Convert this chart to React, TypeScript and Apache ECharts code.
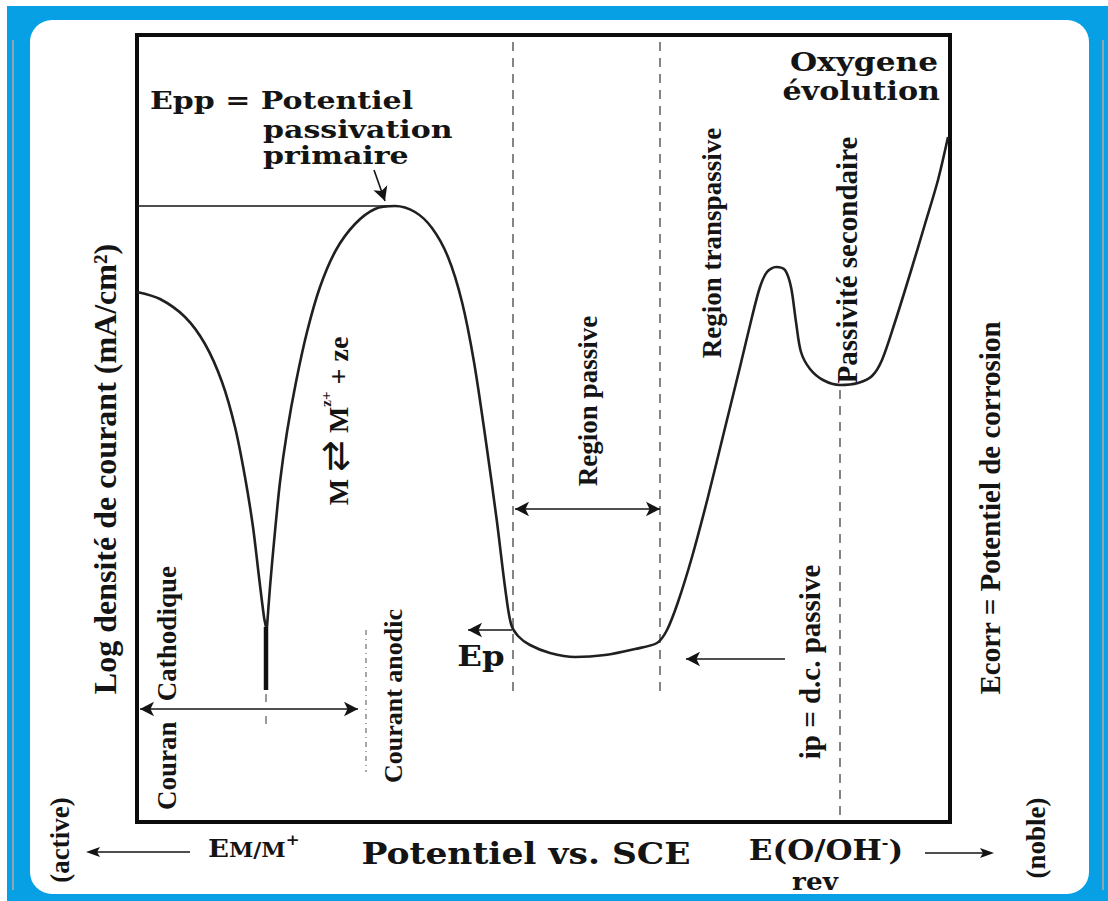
import React, { useEffect, useRef } from "react";
import * as echarts from "echarts";

// Potential (arbitrary units from the left of the frame) vs. log current density (arbitrary units from the bottom)
const cathodicE = [0, 23, 48, 68, 85, 98, 108, 116, 122, 127, 129];
const cathodicLogI = [530, 523, 505, 478, 440, 395, 345, 295, 245, 205, 195];

const anodicE = [
  130, 133, 137, 143, 150, 159, 170, 183, 199, 218,
  238, 258, 278, 295, 311, 325, 337, 349, 360, 368,
  374, 381, 393, 413, 438, 468, 498, 520, 530, 541,
  555, 571, 587, 603, 615, 623, 630, 639, 648, 654,
  659, 664, 673, 686, 703, 721, 735, 745, 758, 773,
  788, 801, 811,
];
const anodicLogI = [
  195, 235, 280, 340, 390, 440, 490, 535, 572, 598,
  613, 616, 610, 594, 565, 520, 460, 380, 300, 235,
  198, 186, 177, 169, 165, 167, 173, 179, 192, 220,
  265, 325, 390, 455, 505, 535, 550, 555, 552, 535,
  500, 470, 453, 442, 437, 439, 446, 462, 500, 548,
  598, 642, 685,
];

// vertical tail at E(M/M+)
const tailE = [129, 129];
const tailLogI = [195, 132];

// key potentials / currents
const eppLogI = 616; // primary passivation current level
const eppE = 258;
const passiveStartE = 376; // Ep
const passiveEndE = 523;
const secondaryE = 703;
const eqE = 129; // E M/M+
const anodicLimitE = 229;
const epLogI = 192;
const ipLogI = 163;
const passiveArrowLogI = 313;
const courantArrowLogI = 113;

const SERIF = '"Liberation Serif", "Times New Roman", serif';
const WIDE = '"DejaVu Serif", serif';
const INK = "#141414";

function vtext(text: string, x: number, y: number, size: number, extra: any = {}) {
  return {
    type: "text",
    x,
    y,
    rotation: Math.PI / 2,
    z: 100,
    style: {
      text,
      fontSize: size,
      fontFamily: SERIF,
      fontWeight: "bold",
      fill: INK,
      textAlign: "center",
      textVerticalAlign: "middle",
      align: "center",
      verticalAlign: "middle",
      ...extra,
    },
  };
}

function htext(text: string, x: number, y: number, size: number, align: string, sx = 1, extra: any = {}) {
  return {
    type: "text",
    x,
    y,
    scaleX: sx,
    z: 100,
    style: {
      text,
      fontSize: size,
      fontFamily: WIDE,
      fontWeight: "bold",
      fill: INK,
      textAlign: align,
      textVerticalAlign: "middle",
      align,
      verticalAlign: "middle",
      ...extra,
    },
  };
}

const dashed = { color: "#858585", width: 2, type: [9, 7] as any };
const thin = { color: INK, width: 1.6, type: "solid" };

function seg(a: number[], b: number[], style: any, s1 = "none", s2 = "none") {
  return [
    { coord: a, lineStyle: style, symbol: s1 },
    { coord: b, symbol: s2 },
  ];
}

export default function App() {
  const ref = useRef<HTMLDivElement>(null);
  useEffect(() => {
    const chart = echarts.init(ref.current!, null, { renderer: "svg" });
    const option: any = {
      animation: false,
      backgroundColor: "#ffffff",
      grid: {
        left: 137,
        top: 35,
        width: 813,
        height: 787,
        show: true,
        borderColor: "#0c0c0c",
        borderWidth: 4,
        backgroundColor: "transparent",
      },
      xAxis: { type: "value", min: 0, max: 813, show: false },
      yAxis: { type: "value", min: 0, max: 787, show: false },
      series: [
        {
          type: "line",
          data: cathodicE.map((e, i) => [e, cathodicLogI[i]]),
          symbol: "none",
          smooth: 0.3,
          lineStyle: { color: "#202020", width: 2.6 },
          z: 5,
        },
        {
          type: "line",
          data: tailE.map((e, i) => [e, tailLogI[i]]),
          symbol: "none",
          lineStyle: { color: "#101010", width: 4.5 },
          z: 5,
        },
        {
          type: "line",
          data: anodicE.map((e, i) => [e, anodicLogI[i]]),
          symbol: "none",
          smooth: 0.3,
          lineStyle: { color: "#202020", width: 2.6 },
          z: 5,
          markLine: {
            silent: true,
            animation: false,
            symbolSize: [11, 14],
            label: { show: false },
            emphasis: { disabled: true },
            data: [
              seg([0, eppLogI], [eppE, eppLogI], thin),
              seg([237, 652], [248, 621], thin, "none", "arrow"),
              seg([passiveStartE, 780], [passiveStartE, 130], dashed),
              seg([passiveEndE, 780], [passiveEndE, 130], dashed),
              seg([secondaryE, 432], [secondaryE, 0], dashed),
              seg([eqE, 128], [eqE, 92], { color: "#9a9a9a", width: 2, type: [8, 14] }),
              seg([anodicLimitE, 192], [anodicLimitE, 50], { color: "#8a8a8a", width: 1.5, type: [5, 4, 1, 4] }),
              seg([passiveStartE + 2, passiveArrowLogI], [passiveEndE, passiveArrowLogI], thin, "arrow", "arrow"),
              seg([3, courantArrowLogI], [221, courantArrowLogI], thin, "arrow", "arrow"),
              seg([passiveStartE - 1, epLogI], [331, epLogI], thin, "none", "arrow"),
              seg([648, ipLogI], [549, ipLogI], thin, "none", "arrow"),
            ],
          },
        },
      ],
      graphic: {
        elements: [
          // frame
          { type: "rect", z: -100, shape: { x: 0, y: 0, width: 1108, height: 901 }, style: { fill: "#ffffff" } },
          { type: "rect", z: -99, shape: { x: 7, y: 6, width: 1101, height: 895 }, style: { fill: "#07a0e4" } },
          { type: "rect", z: -98, shape: { x: 30, y: 20, width: 1059, height: 874, r: 22 }, style: { fill: "#ffffff" } },
          { type: "line", z: -97, shape: { x1: 13, y1: 40, x2: 13, y2: 890 }, style: { stroke: "#8fa7ae", lineWidth: 2 } },
          { type: "line", z: -97, shape: { x1: 1103, y1: 40, x2: 1103, y2: 890 }, style: { stroke: "#8fa7ae", lineWidth: 2 } },

          // horizontal texts
          htext("Epp = Potentiel", 150, 100, 25, "left", 1.2),
          htext("passivation", 263, 129, 24, "left", 1.25),
          htext("primaire", 263, 155, 24, "left", 1.25),
          htext("Oxygene", 938, 62, 26, "right", 1.2),
          htext("évolution", 940, 91, 26, "right", 1.16),
          htext("Ep", 481, 656, 27, "center", 1.2),
          htext("Potentiel vs. SCE", 526, 854, 30, "center", 1.15),
          htext("rev", 815, 881, 25, "center", 1.05),
          {
            type: "text",
            x: 208,
            y: 846,
            scaleX: 1.1,
            z: 100,
            style: {
              text: "{e|E}{m|M/M}{p|+}",
              fill: INK,
              textAlign: "left",
              textVerticalAlign: "middle",
              align: "left",
              verticalAlign: "middle",
              rich: {
                e: { fontSize: 25, fontFamily: WIDE, fontWeight: "bold", fill: INK, lineHeight: 28, verticalAlign: "bottom" },
                m: { fontSize: 20, fontFamily: WIDE, fontWeight: "bold", fill: INK, lineHeight: 28, verticalAlign: "bottom" },
                p: { fontSize: 15, fontFamily: WIDE, fontWeight: "bold", fill: INK, lineHeight: 28, verticalAlign: "top" },
              },
            },
          },
          {
            type: "text",
            x: 826,
            y: 850,
            scaleX: 1.15,
            z: 100,
            style: {
              text: "{a|E(O/OH}{p|-}{a|)}",
              fill: INK,
              textAlign: "center",
              textVerticalAlign: "middle",
              align: "center",
              verticalAlign: "middle",
              rich: {
                a: { fontSize: 27, fontFamily: WIDE, fontWeight: "bold", fill: INK, lineHeight: 28, verticalAlign: "bottom" },
                p: { fontSize: 14, fontFamily: WIDE, fontWeight: "bold", fill: INK, lineHeight: 28, verticalAlign: "top" },
              },
            },
          },

          // vertical texts
          vtext("Log densité de courant (mA/cm²)", 105, 469, 32),
          vtext("Couran   Cathodique", 167, 688, 27),
          vtext("Courant anodic", 393, 696, 26),
          vtext("Region passive", 588, 401, 27),
          vtext("Region transpassive", 712, 243, 27),
          vtext("Passivité secondaire", 847, 260, 29),
          vtext("ip = d.c. passive", 810, 662, 29),
          vtext("Ecorr = Potentiel de corrosion", 990, 508, 29),
          vtext("(active)", 60, 840, 27),
          vtext("(noble)", 1036, 838, 27),
          {
            type: "text",
            x: 335,
            y: 421,
            rotation: Math.PI / 2,
            z: 100,
            style: {
              text: "{n|M }{a|⇄}{n| M}{s|z+}{n| + ze}",
              fill: INK,
              textAlign: "center",
              textVerticalAlign: "middle",
              align: "center",
              verticalAlign: "middle",
              rich: {
                n: { fontSize: 28, fontFamily: SERIF, fontWeight: "bold", fill: INK, lineHeight: 34, verticalAlign: "bottom" },
                a: { fontSize: 38, fontFamily: '"DejaVu Sans", sans-serif', fill: INK, lineHeight: 34, verticalAlign: "middle" },
                s: { fontSize: 15, fontFamily: SERIF, fontWeight: "bold", fill: INK, lineHeight: 34, verticalAlign: "top" },
              },
            },
          },

          // arrows outside the frame
          { type: "line", z: 50, shape: { x1: 190, y1: 852, x2: 96, y2: 852 }, style: { stroke: INK, lineWidth: 1.6 } },
          { type: "polygon", z: 50, shape: { points: [[86, 852], [100, 847], [97, 852], [100, 857]] }, style: { fill: INK } },
          { type: "line", z: 50, shape: { x1: 925, y1: 853, x2: 984, y2: 853 }, style: { stroke: INK, lineWidth: 1.6 } },
          { type: "polygon", z: 50, shape: { points: [[994, 853], [980, 848], [983, 853], [980, 858]] }, style: { fill: INK } },
        ],
      },
    };
    chart.setOption(option);
    return () => chart.dispose();
  }, []);
  return <div ref={ref} style={{ position: "fixed", left: 0, top: 0, width: 1108, height: 901 }} />;
}
